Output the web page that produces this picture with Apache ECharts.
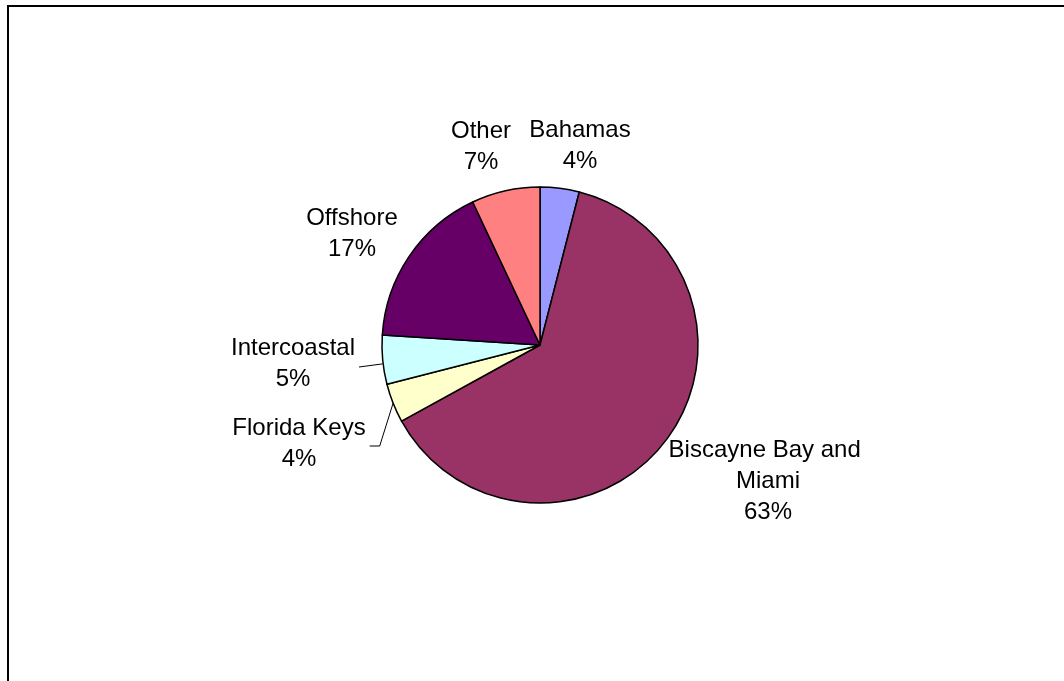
<!DOCTYPE html>
<html>
<head>
<meta charset="utf-8">
<script src="https://cdn.jsdelivr.net/npm/echarts@6/dist/echarts.min.js"></script>
<style>
  html, body { margin: 0; padding: 0; background: #fff; }
  #chart { width: 1064px; height: 681px; }
</style>
</head>
<body>
<div id="chart"></div>
<script>
// Share of records by area, in percent (clockwise from 12 o'clock)
const areas = ['Bahamas', 'Biscayne Bay and Miami', 'Florida Keys', 'Intercoastal', 'Offshore', 'Other'];
const shares = [4, 63, 4, 5, 17, 7];
const sliceColors = ['#9999FF', '#993366', '#FFFFCC', '#CCFFFF', '#660066', '#FF8080'];

// Where each label block is centred on the page
const labelSpots = [[580, 146], [768, 481], [299, 444], [293, 364], [352, 234], [481, 147]];
// Labels that get a leader line back to their slice
const withLeader = ['Florida Keys', 'Intercoastal'];

const chart = echarts.init(document.getElementById('chart'), null, { renderer: 'canvas' });

const pieData = areas.map((name, i) => ({
  name: name,
  value: shares[i],
  itemStyle: { color: sliceColors[i] },
  labelLine: { show: withLeader.includes(name) }
}));

// width of the first text line, used to hook the leader onto the label's right side
function firstLineWidth(text, font) {
  const ctx = document.createElement('canvas').getContext('2d');
  ctx.font = font;
  return ctx.measureText(text).width;
}
const labelFont = '24px "Liberation Sans", Arial, sans-serif';

chart.setOption({
  backgroundColor: '#ffffff',
  animation: false,
  graphic: [{
    type: 'rect',
    shape: { x: 8, y: 6, width: 1100, height: 720 },
    style: { fill: 'none', stroke: '#000', lineWidth: 2 },
    silent: true
  }],
  series: [{
    type: 'pie',
    center: [540, 345],
    radius: 158,
    startAngle: 90,
    clockwise: true,
    avoidLabelOverlap: false,
    data: pieData,
    itemStyle: { borderColor: '#000', borderWidth: 1.5 },
    emphasis: { disabled: true },
    label: {
      show: true,
      position: 'outside',
      formatter: '{b}\n{d}%',
      fontFamily: '"Liberation Sans", Arial, sans-serif',
      fontSize: 24,
      lineHeight: 31,
      color: '#000',
      align: 'center',
      width: 215,
      overflow: 'break'
    },
    labelLine: {
      lineStyle: { color: '#000', width: 1 },
      length: 10,
      length2: 10
    },
    labelLayout: function (params) {
      const i = params.dataIndex;
      const spot = labelSpots[i];
      const out = { x: spot[0], y: spot[1], align: 'center', verticalAlign: 'middle' };
      const name = areas[i];
      if (withLeader.includes(name) && params.labelLinePoints) {
        const start = params.labelLinePoints[0];
        const right = spot[0] + firstLineWidth(name, labelFont) / 2;
        const endY = spot[1] + 2;
        if (name === 'Florida Keys') {
          out.labelLinePoints = [start, [right + 14, endY], [right + 4, endY]];
        } else {
          const end = [right + 4, endY + 1];
          out.labelLinePoints = [[start[0], start[1] + 4], end, end];
        }
      }
      return out;
    }
  }]
});
</script>
</body>
</html>
